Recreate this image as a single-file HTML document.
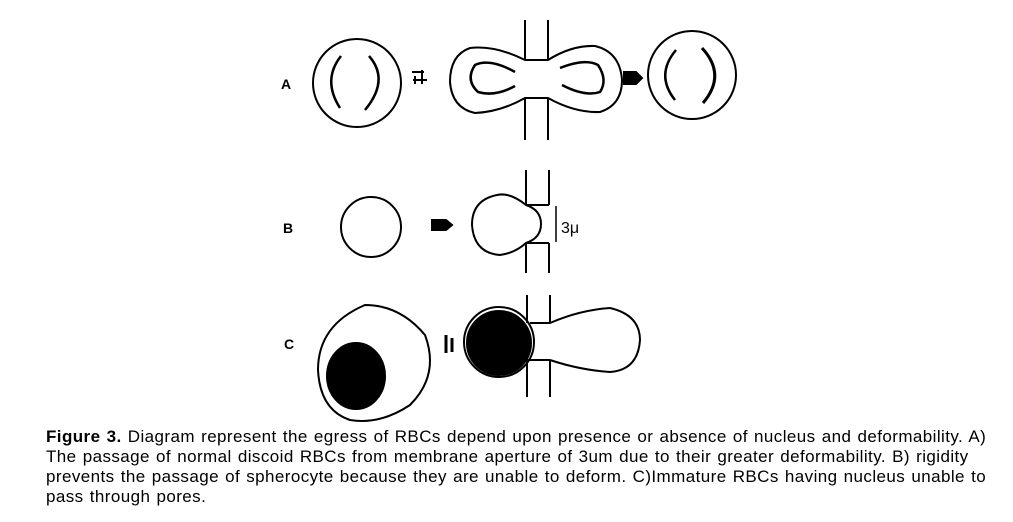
<!DOCTYPE html>
<html><head><meta charset="utf-8"><style>
html,body{margin:0;padding:0;background:#fff;width:1013px;height:522px;overflow:hidden}
svg{position:absolute;left:0;top:0}
.cap{position:absolute;left:46px;top:427px;font-family:"Liberation Sans",Arial,sans-serif;font-size:17px;line-height:20px;color:#000;white-space:nowrap;letter-spacing:0.42px;word-spacing:1px}
</style></head><body>
<svg width="1013" height="522" viewBox="0 0 1013 522" fill="none" stroke="#000" stroke-width="2">
<text x="281" y="89" font-family="Liberation Sans" font-size="14" font-weight="bold" fill="#000" stroke="none">A</text>
<text x="283" y="233" font-family="Liberation Sans" font-size="14" font-weight="bold" fill="#000" stroke="none">B</text>
<text x="284" y="349" font-family="Liberation Sans" font-size="14" font-weight="bold" fill="#000" stroke="none">C</text>
<!-- A -->
<circle cx="357" cy="83" r="44"/>
<path d="M341 56 Q322 80 340 108" stroke-width="2.5"/>
<path d="M369 56 Q390 80 365 110" stroke-width="2.5"/>
<path d="M412 72 h12 M413 80 h14 M415 76 v8 M422 70 v14" stroke-width="2"/>
<line x1="525" y1="20" x2="525" y2="60"/><line x1="548" y1="20" x2="548" y2="60"/>
<line x1="525" y1="60" x2="548" y2="60"/>
<line x1="525" y1="98" x2="525" y2="140"/><line x1="548" y1="98" x2="548" y2="140"/>
<line x1="525" y1="98" x2="548" y2="98"/>
<path d="M525 60 Q495 45 470 48 Q450 55 450 82 Q452 108 475 113 Q500 112 525 98 L548 98 Q575 113 600 112 Q622 105 622 80 Q620 52 595 46 Q572 45 548 60 Z"/>
<path d="M515 72 Q490 58 475 65 Q465 80 478 92 Q495 97 515 86" stroke-width="2.5"/>
<path d="M560 68 Q585 58 598 65 Q608 80 600 92 Q585 97 562 85" stroke-width="2.5"/>
<path d="M624 72 h12 l6 6 -6 6 h-12 z" fill="#000"/>
<circle cx="692" cy="75" r="44"/>
<path d="M676 50 Q655 75 675 100" stroke-width="2.5"/>
<path d="M702 48 Q727 75 703 103" stroke-width="3"/>
<!-- B -->
<circle cx="371" cy="227" r="30"/>
<path d="M432 220 h14 l6 5 -6 5 h-14 z" fill="#000"/>
<line x1="526" y1="170" x2="526" y2="205"/><line x1="549" y1="170" x2="549" y2="205"/>
<line x1="526" y1="205" x2="549" y2="205"/>
<line x1="526" y1="243" x2="526" y2="273"/><line x1="549" y1="243" x2="549" y2="273"/>
<line x1="526" y1="243" x2="549" y2="243"/>
<path d="M526 205 Q510 192 497 195 Q472 200 472 225 Q474 253 500 255 Q515 253 526 243 Q541 238 541 224 Q541 210 526 205 Z"/>
<line x1="556" y1="206" x2="556" y2="242" stroke-width="1.5"/>
<text x="561" y="233" font-family="Liberation Sans" font-size="16" fill="#000" stroke="none">3μ</text>
<!-- C -->
<path d="M365 305 Q400 305 425 335 Q440 375 410 405 Q380 425 350 420 Q320 410 318 370 Q318 325 365 305 Z"/>
<ellipse cx="356" cy="376" rx="29" ry="33" fill="#000"/>
<path d="M446 335 v18 M452 338 v14" stroke-width="3"/>
<line x1="527" y1="295" x2="527" y2="323"/><line x1="550" y1="295" x2="550" y2="323"/>
<line x1="527" y1="360" x2="527" y2="397"/><line x1="550" y1="360" x2="550" y2="397"/>
<line x1="527" y1="360" x2="550" y2="360"/>
<circle cx="499" cy="342" r="35"/>
<circle cx="499" cy="343" r="32" fill="#000"/>
<path d="M530 323 L550 323 Q580 310 610 308 Q640 315 640 340 Q638 370 610 372 Q580 370 550 360"/>
</svg>
<div class="cap"><b>Figure 3.</b> Diagram represent the egress of RBCs depend upon presence or absence of nucleus and deformability. A)<br>The passage of normal discoid RBCs from membrane aperture of 3um due to their greater deformability. B) rigidity<br>prevents the passage of spherocyte because they are unable to deform. C)Immature RBCs having nucleus unable to<br>pass through pores.</div>
</body></html>
